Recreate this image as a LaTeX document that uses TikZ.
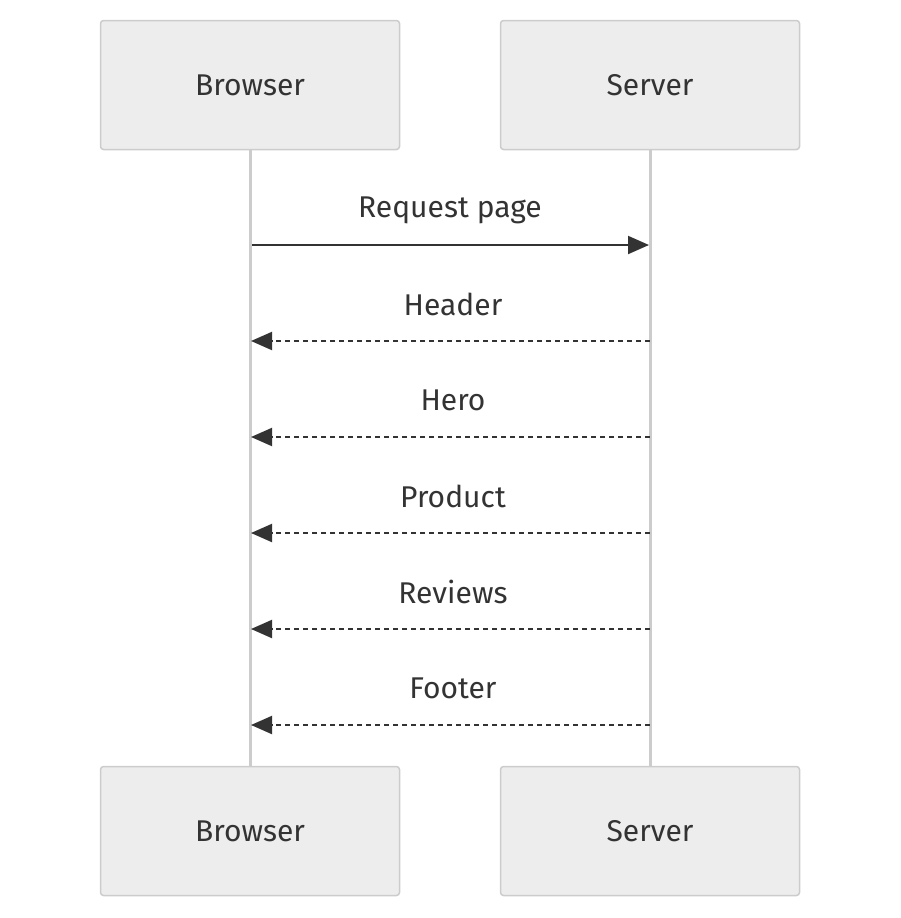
\documentclass[tikz,border=0pt]{standalone}
\usepackage{fontspec}
\setmainfont{Fira Sans}
\usetikzlibrary{arrows.meta}
\begin{document}
\begin{tikzpicture}[x=1pt,y=-1pt,
  actor/.style={draw=black!20,fill=black!7,rounded corners=3pt,line width=1.5pt,minimum width=299pt,minimum height=129pt,font=\fontsize{30}{36}\selectfont,text=black!80},
  life/.style={draw=black!20,line width=3pt},
  msg/.style={draw=black!80,line width=2pt,-{Triangle[length=21pt,width=18pt]}},
  ret/.style={msg,dash pattern=on 5pt off 4pt},
  lbl/.style={font=\fontsize{30}{36}\selectfont,text=black!80}]
\useasboundingbox (0,0) rectangle (900,918);
\node[actor] (b1) at (250,85) {Browser};
\node[actor] (s1) at (650,85) {Server};
\node[actor] (b2) at (250,831) {Browser};
\node[actor] (s2) at (650,831) {Server};
\draw[life] (b1.south) -- (b2.north);
\draw[life] (s1.south) -- (s2.north);
\coordinate (bR) at (252,245); \coordinate (sR) at (649,245);
\draw[msg] (bR) -- (sR);
\node[lbl] (l0) at (450,210) {Request page};
\foreach \y/\t/\n in {341/Header/a,437/Hero/b,533/Product/c,629/Reviews/d,725/Footer/e}{
  \coordinate (s\n) at (650,\y); \coordinate (b\n) at (251,\y);
  \draw[ret] (s\n) -- (b\n);
  \node[lbl] (l\n) at (453,\y-37) {\t};
}
\end{tikzpicture}
\end{document}
